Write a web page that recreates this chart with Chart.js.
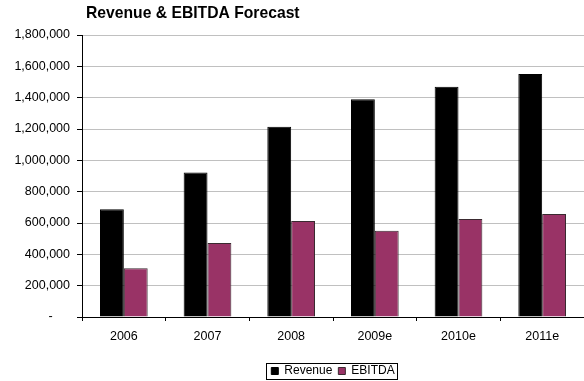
<!DOCTYPE html>
<html>
<head>
<meta charset="utf-8">
<script src="https://cdn.jsdelivr.net/npm/chart.js@4"></script>
<style>
  html, body { margin: 0; padding: 0; background: #fff; }
  #wrap { position: relative; width: 584px; height: 381px; }
</style>
</head>
<body>
<div id="wrap"><canvas id="forecastChart"></canvas></div>
<script>
// Yearly figures, estimates marked with "e"
var years = ['2006', '2007', '2008', '2009e', '2010e', '2011e'];
var revenue = [688000, 923000, 1215000, 1390000, 1470000, 1551000];
var ebitda = [311000, 472000, 613000, 551000, 625000, 657000];
var yTicks = [0, 200000, 400000, 600000, 800000, 1000000, 1200000, 1400000, 1600000, 1800000];

var FONT = 'Arial, "Liberation Sans", sans-serif';

// title in the top-left corner, just right of the value axis
var titlePlugin = {
  id: 'cornerTitle',
  afterDraw: function(chart) {
    var ctx = chart.ctx;
    ctx.save();
    ctx.font = 'bold 15.7px ' + FONT;
    ctx.fillStyle = '#000';
    ctx.textBaseline = 'middle';
    ctx.textAlign = 'left';
    ctx.fillText('Revenue & EBITDA Forecast', 86, 14);
    ctx.restore();
  }
};

// thin frame around the legend entries
var legendFrame = {
  id: 'legendFrame',
  afterDraw: function(chart) {
    var boxes = chart.legend && chart.legend.legendHitBoxes;
    if (!boxes || !boxes.length) return;
    var left = Infinity, right = -Infinity, top = Infinity, bottom = -Infinity;
    boxes.forEach(function(b) {
      left = Math.min(left, b.left);
      right = Math.max(right, b.left + b.width);
      top = Math.min(top, b.top);
      bottom = Math.max(bottom, b.top + b.height);
    });
    var ctx = chart.ctx;
    ctx.save();
    ctx.strokeStyle = '#000';
    ctx.lineWidth = 1;
    ctx.strokeRect(Math.round(left - 5) + 0.5, Math.round(top - 2) + 0.5,
                   Math.round(right - left + 8), Math.round(bottom - top + 4));
    ctx.restore();
  }
};

var ctx = document.getElementById('forecastChart').getContext('2d');
new Chart(ctx, {
  type: 'bar',
  data: {
    labels: years,
    datasets: [{
      label: 'Revenue',
      data: revenue,
      backgroundColor: '#000000',
      borderColor: '#000000',
      borderWidth: 1
    }, {
      label: 'EBITDA',
      data: ebitda,
      backgroundColor: '#993366',
      borderColor: '#3a2a30',
      borderWidth: 1
    }]
  },
  options: {
    responsive: true,
    maintainAspectRatio: false,
    animation: false,
    devicePixelRatio: 1,
    datasets: {
      bar: { categoryPercentage: 0.57, barPercentage: 1.0 }
    },
    layout: { padding: { top: 35, left: 0, right: 0, bottom: -6 } },
    scales: {
      x: {
        grid: { offset: true, drawOnChartArea: false, tickLength: 4, color: '#000', tickColor: '#000' },
        border: { color: '#000', width: 1 },
        ticks: { color: '#000', font: { family: FONT, size: 12.5 }, padding: 8 },
        afterFit: function(scale) { scale.height = 42; }
      },
      y: {
        min: 0,
        max: 1800000,
        afterBuildTicks: function(scale) {
          scale.ticks = yTicks.map(function(v) { return { value: v }; });
        },
        grid: { color: '#c0c0c0', tickColor: '#000', tickLength: 5 },
        border: { color: '#000', width: 1 },
        ticks: {
          color: '#000',
          padding: 7,
          font: { family: FONT, size: 12.5 },
          callback: function(v) {
            return v === 0 ? '-     ' : v.toLocaleString('en-US');
          }
        },
        afterFit: function(scale) { scale.width = 82; }
      }
    },
    plugins: {
      title: { display: false },
      tooltip: { enabled: false },
      legend: {
        position: 'bottom',
        fullSize: false,
        labels: {
          color: '#000',
          boxWidth: 7,
          boxHeight: 7,
          padding: 6,
          font: { family: FONT, size: 12 }
        }
      }
    }
  },
  plugins: [titlePlugin, legendFrame]
});
</script>
</body>
</html>
